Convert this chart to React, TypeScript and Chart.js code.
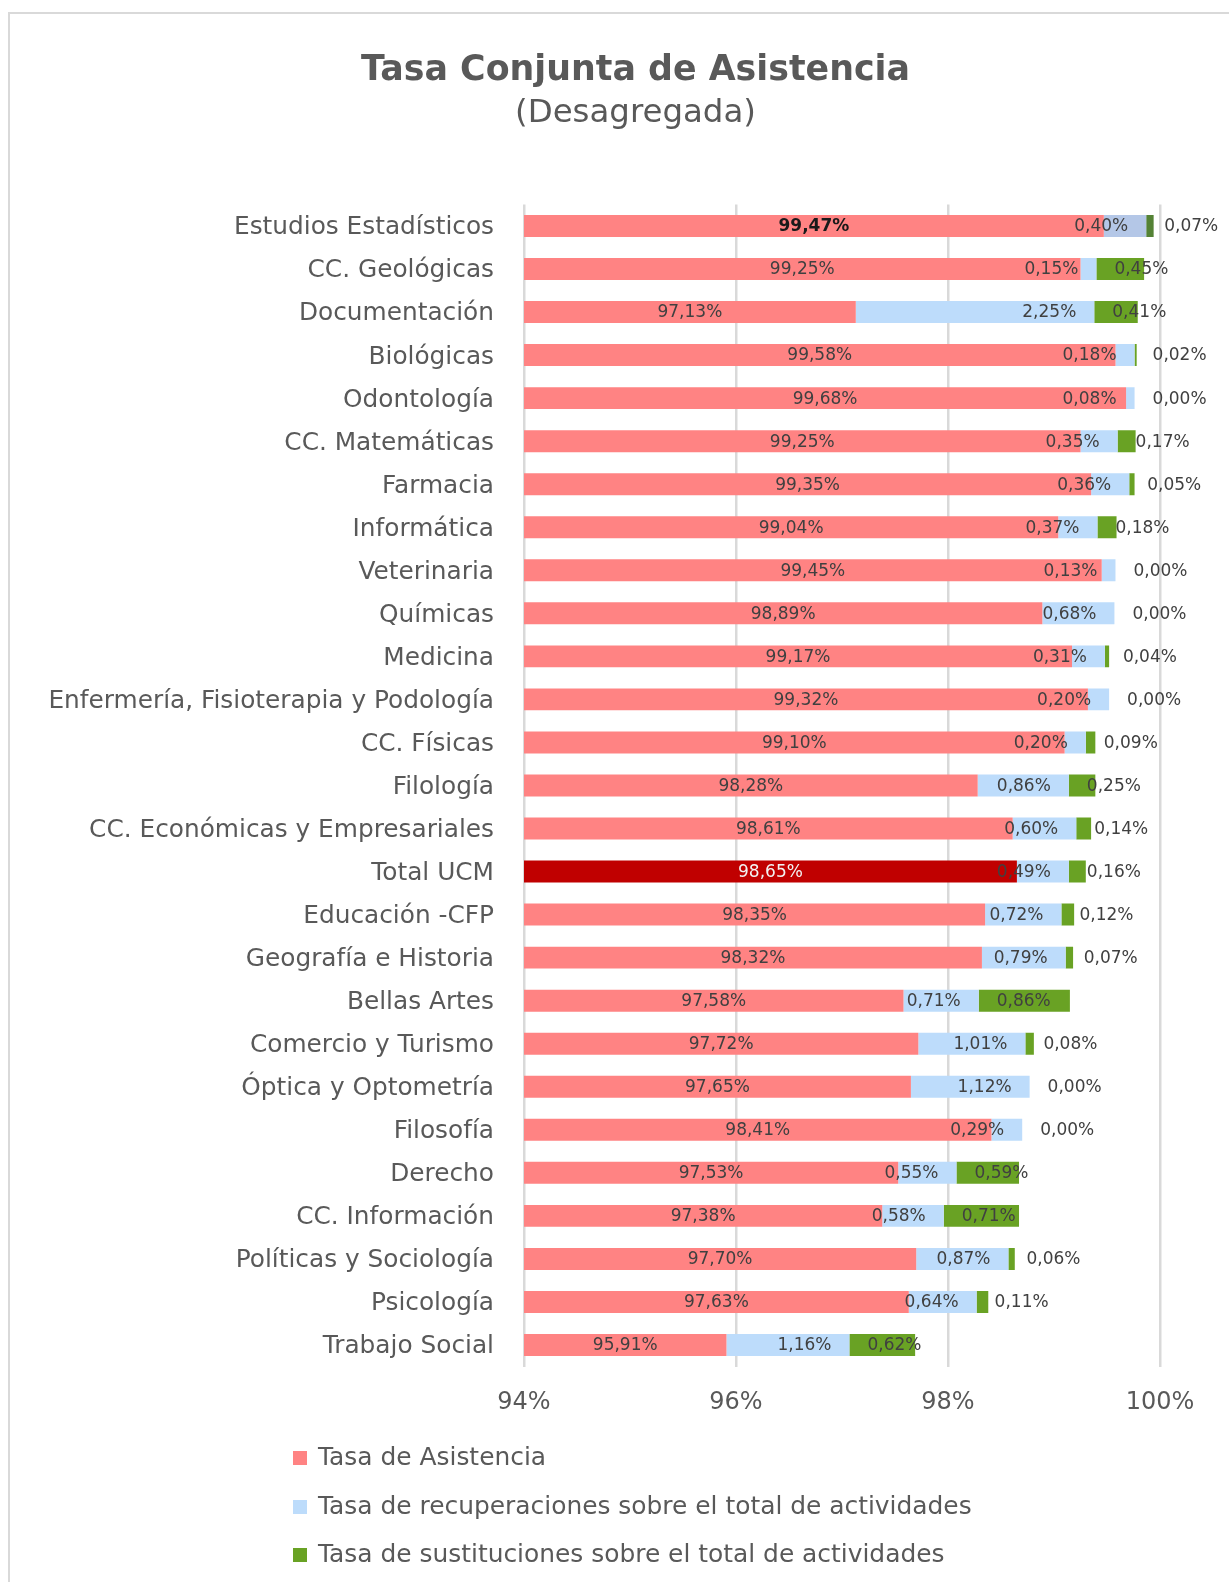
import React, { useEffect, useRef } from 'react';
import { Chart, registerables } from 'chart.js';

Chart.register(...registerables);

const categories = [
  'Estudios Estadísticos',
  'CC. Geológicas',
  'Documentación',
  'Biológicas',
  'Odontología',
  'CC. Matemáticas',
  'Farmacia',
  'Informática',
  'Veterinaria',
  'Químicas',
  'Medicina',
  'Enfermería, Fisioterapia y Podología',
  'CC. Físicas',
  'Filología',
  'CC. Económicas y Empresariales',
  'Total UCM',
  'Educación -CFP',
  'Geografía e Historia',
  'Bellas Artes',
  'Comercio y Turismo',
  'Óptica y Optometría',
  'Filosofía',
  'Derecho',
  'CC. Información',
  'Políticas y Sociología',
  'Psicología',
  'Trabajo Social',
];

const asistencia = [
  99.47, 99.25, 97.13, 99.58, 99.68, 99.25, 99.35, 99.04, 99.45, 98.89, 99.17, 99.32, 99.1, 98.28,
  98.61, 98.65, 98.35, 98.32, 97.58, 97.72, 97.65, 98.41, 97.53, 97.38, 97.7, 97.63, 95.91,
];

const recuperaciones = [
  0.4, 0.15, 2.25, 0.18, 0.08, 0.35, 0.36, 0.37, 0.13, 0.68, 0.31, 0.2, 0.2, 0.86, 0.6, 0.49, 0.72,
  0.79, 0.71, 1.01, 1.12, 0.29, 0.55, 0.58, 0.87, 0.64, 1.16,
];

const sustituciones = [
  0.07, 0.45, 0.41, 0.02, 0.0, 0.17, 0.05, 0.18, 0.0, 0.0, 0.04, 0.0, 0.09, 0.25, 0.14, 0.16, 0.12,
  0.07, 0.86, 0.08, 0.0, 0.0, 0.59, 0.71, 0.06, 0.11, 0.62,
];

const seriesNames = [
  'Tasa de Asistencia',
  'Tasa de recuperaciones sobre el total de actividades',
  'Tasa de sustituciones sobre el total de actividades',
];

const xTickValues = [94, 96, 98, 100];

const titleText = 'Tasa Conjunta de Asistencia';
const subtitleText = '(Desagregada)';

// ---- styling ----
const FONT = "'DejaVu Sans', sans-serif";
const TEXT = '#595959';
const LABEL_TEXT = '#404040';
const RED = '#ff8383';
const RED_TOTAL = '#c00000';
const BLUE = '#bddcfb';
const BLUE_FIRST = '#b4c7e7';
const GREEN = '#69a224';
const GREEN_FIRST = '#548235';
const seriesColors = [RED, BLUE, GREEN];

const fmt = (v: number) => v.toFixed(2).replace('.', ',') + '%';

const labelsPlugin = {
  id: 'segmentLabels',
  afterDatasetsDraw(chart: any) {
    const ctx = chart.ctx;
    const area = chart.chartArea;
    ctx.save();
    ctx.textBaseline = 'middle';
    chart.data.datasets.forEach((ds: any, di: number) => {
      const meta = chart.getDatasetMeta(di);
      meta.data.forEach((el: any, i: number) => {
        const p = el.getProps(['x', 'y', 'base'], true);
        const start = Math.max(Math.min(p.base, p.x), area.left);
        const end = Math.max(p.base, p.x);
        const ty = p.y + 1;
        const text = fmt(ds.data[i]);
        let bold = false;
        let color = LABEL_TEXT;
        if (di === 0) {
          if (categories[i] === 'Total UCM') color = '#f2f2f2';
          if (i === 0) {
            bold = true;
            color = '#1a1a1a';
          }
          ctx.font = `${bold ? 'bold ' : ''}17px ${FONT}`;
          ctx.fillStyle = color;
          ctx.textAlign = 'center';
          ctx.fillText(text, (start + end) / 2, ty);
        } else if (di === 1) {
          ctx.font = `17px ${FONT}`;
          ctx.fillStyle = color;
          ctx.textAlign = 'right';
          ctx.fillText(text, end - 18, ty);
        } else {
          ctx.font = `17px ${FONT}`;
          ctx.fillStyle = color;
          ctx.textAlign = 'left';
          ctx.fillText(text, start + 18, ty);
        }
      });
    });
    ctx.restore();
  },
};

const legendPlugin = {
  id: 'verticalLegend',
  afterDraw(chart: any) {
    const ctx = chart.ctx;
    ctx.save();
    ctx.textBaseline = 'middle';
    ctx.textAlign = 'left';
    ctx.font = `24.9px ${FONT}`;
    const rowsY = [1458, 1507, 1555];
    chart.data.datasets.forEach((ds: any, di: number) => {
      const y = rowsY[di];
      ctx.fillStyle = seriesColors[di];
      ctx.fillRect(293, y - 7, 14, 14);
      ctx.fillStyle = TEXT;
      ctx.fillText(ds.label, 318, y + 1);
    });
    ctx.restore();
  },
};

export default function App() {
  const canvasRef = useRef<HTMLCanvasElement | null>(null);

  useEffect(() => {
    document.body.style.margin = '0';
    const canvas = canvasRef.current;
    if (!canvas) return;

    const redColors = categories.map((c) => (c === 'Total UCM' ? RED_TOTAL : RED));
    const blueColors = categories.map((_, i) => (i === 0 ? BLUE_FIRST : BLUE));
    const greenColors = categories.map((_, i) => (i === 0 ? GREEN_FIRST : GREEN));

    const chart = new Chart(canvas, {
      type: 'bar',
      data: {
        labels: categories,
        datasets: [
          { label: seriesNames[0], data: asistencia, backgroundColor: redColors, borderWidth: 0 },
          { label: seriesNames[1], data: recuperaciones, backgroundColor: blueColors, borderWidth: 0 },
          { label: seriesNames[2], data: sustituciones, backgroundColor: greenColors, borderWidth: 0 },
        ],
      },
      options: {
        indexAxis: 'y',
        animation: false,
        responsive: false,
        maintainAspectRatio: false,
        devicePixelRatio: 1,
        datasets: {
          bar: { barPercentage: 0.51, categoryPercentage: 1 },
        },
        layout: { padding: { left: 30, right: -12, top: 0, bottom: 155.5 } },
        font: { family: FONT },
        plugins: {
          legend: { display: false },
          tooltip: { enabled: false },
          title: {
            display: true,
            text: titleText,
            color: TEXT,
            font: { family: FONT, size: 34.8, weight: 'bold', lineHeight: 1.2 },
            padding: { top: 50, bottom: 0 },
          },
          subtitle: {
            display: true,
            text: subtitleText,
            color: TEXT,
            font: { family: FONT, size: 32.4, weight: 'normal', lineHeight: 1.2 },
            padding: { top: 2, bottom: 71.8 },
          },
        },
        scales: {
          x: {
            type: 'linear',
            stacked: true,
            min: xTickValues[0],
            max: xTickValues[xTickValues.length - 1],
            afterBuildTicks: (axis: any) => {
              axis.ticks = xTickValues.map((v) => ({ value: v }));
            },
            afterFit: (axis: any) => {
              axis.height = 60;
            },
            ticks: {
              color: TEXT,
              font: { family: FONT, size: 24 },
              padding: 22,
              callback: (v: any) => `${v}%`,
            },
            grid: { color: '#d9d9d9', lineWidth: 2.5, drawTicks: false },
            border: { display: false },
          },
          y: {
            type: 'category',
            stacked: true,
            afterFit: (axis: any) => {
              axis.width = 494;
            },
            ticks: {
              color: TEXT,
              font: { family: FONT, size: 24.8 },
              padding: 30,
              labelOffset: 2,
              autoSkip: false,
            },
            grid: { display: false, drawTicks: false },
            border: { display: false },
          },
          yRight: {
            type: 'category',
            position: 'right',
            display: true,
            afterFit: (axis: any) => {
              axis.width = 81;
            },
            ticks: { display: false },
            grid: { display: false, drawTicks: false },
            border: { display: false },
          },
        },
      },
      plugins: [labelsPlugin, legendPlugin],
    } as any);

    return () => {
      chart.destroy();
    };
  }, []);

  return (
    <div style={{ position: 'relative', width: 1229, height: 1582, overflow: 'hidden', background: '#fff' }}>
      <div
        style={{
          position: 'absolute',
          left: 8,
          top: 12,
          width: 1300,
          height: 1700,
          borderLeft: '2.5px solid #d9d9d9',
          borderTop: '2.5px solid #d9d9d9',
        }}
      />
      <canvas ref={canvasRef} width={1229} height={1582} style={{ position: 'absolute', left: 0, top: 0, width: 1229, height: 1582 }} />
    </div>
  );
}
